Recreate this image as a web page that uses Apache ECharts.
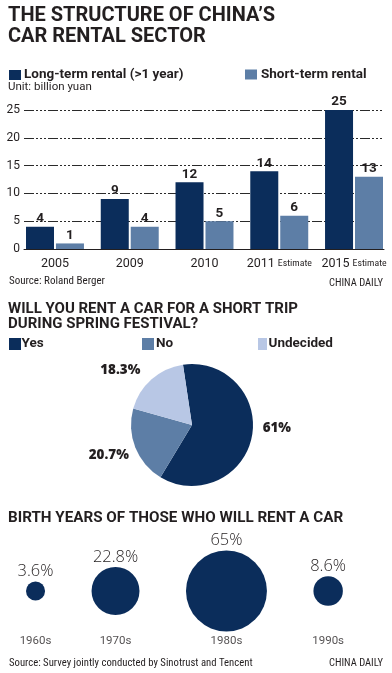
<!DOCTYPE html>
<html><head><meta charset="utf-8">
<script src="https://cdn.jsdelivr.net/npm/echarts@6/dist/echarts.min.js"></script>
<style>html,body{margin:0;padding:0;background:#fff}#c{width:392px;height:673px}</style>
</head><body><div id="c"></div>
<script>
// ---- data ----
const years = ['2005', '2009', '2010', '2011 Estimate', '2015 Estimate'];
const longTerm = [4, 9, 12, 14, 25];
const shortTerm = [1, 4, 5, 6, 13];
const yMin = 0, yMax = 25, yStep = 5;
const pieNames = ['Yes', 'No', 'Undecided'];
const pieValues = [61, 20.7, 18.3];
const decades = ['1960s', '1970s', '1980s', '1990s'];
const shares = [3.6, 22.8, 65, 8.6];

// ---- styles ----
const NAVY = '#0b2d5b', STEEL = '#5d7ea6', LIGHT = '#b8c7e5', INK = '#231f20';
const F = 'Roboto, "Noto Sans", sans-serif';
const COND = '"Roboto Condensed", Roboto, sans-serif';
const OPEN = '"Open Sans", Roboto, sans-serif';

// bubble layout: area proportional to share, equal gaps between circles
const K = 10.04, GAP = 46.5;
const diam = shares.map(v => K * Math.sqrt(v));
let cursor = 26;
const centers = diam.map(d => { const c = cursor + d / 2; cursor += d + GAP; return c; });

const txt = (text, pos, size, family, weight, lh) => Object.assign({text, padding: 0,
  textStyle: {fontFamily: family || F, fontWeight: weight || 'normal', fontSize: size, lineHeight: lh || size * 1.2, color: INK}}, pos);
const leg = (name, left, top, h, gap, iw) => ({data: [name], left, top, padding: 0, itemWidth: iw || 12, itemHeight: h,
  icon: 'rect', textStyle: {fontFamily: F, fontWeight: 'bold', fontSize: 13.5, color: INK, padding: [0, 0, 0, gap - 5]}});

const chart = echarts.init(document.getElementById('c'), null, {renderer: 'canvas'});
chart.setOption({
  animation: false,
  backgroundColor: '#fff',
  title: [
    txt('THE STRUCTURE OF CHINA\u2019S\nCAR RENTAL SECTOR', {left: 8, top: 5}, 20, F, 'bold', 21.5),
    txt('Unit: billion yuan', {left: 8, top: 80}, 11.5),
    txt('Source: Roland Berger', {left: 9, top: 275}, 11, COND),
    txt('CHINA DAILY', {right: 9, top: 277}, 10.5, COND),
    txt('WILL YOU RENT A CAR FOR A SHORT TRIP\nDURING SPRING FESTIVAL?', {left: 8, top: 301}, 15, F, 'bold', 15.5),
    txt('BIRTH YEARS OF THOSE WHO WILL RENT A CAR', {left: 8, top: 510}, 15.2, F, 'bold', 16),
    txt('Source: Survey jointly conducted by Sinotrust and Tencent', {left: 9, top: 657}, 10.7, COND),
    txt('CHINA DAILY', {right: 9, top: 657}, 10.5, COND)
  ],
  legend: [
    leg('Long-term rental (>1 year)', 9, 68, 10, 3),
    leg('Short-term rental', 245, 67.5, 10, 4),
    leg(pieNames[0], 9, 337, 12, 0.5),
    leg(pieNames[1], 142, 337, 12, 2),
    leg(pieNames[2], 258, 337, 12, 1.5, 9)
  ],
  grid: [
    {left: 24, right: 8, top: 110, height: 139},
    {left: 17.6, right: 0.6, top: 110, height: 139},
    {left: 0, right: 0, top: 541, height: 100}
  ],
  xAxis: [
    {gridIndex: 0, type: 'value', min: 0, max: 1, axisLabel: {show: false}, axisTick: {show: false},
     splitLine: {show: false}, axisLine: {show: true, lineStyle: {color: INK, width: 1}}},
    {gridIndex: 1, type: 'category', data: years, axisLine: {show: false}, axisTick: {show: false},
     axisLabel: {interval: 0, margin: 8, fontFamily: F, fontSize: 12.5, color: INK,
       formatter: v => { const p = v.split(' '); return p.length > 1 ? '{a|' + p[0] + '} {b|' + p[1] + '}' : '{a|' + v + '}'; },
       rich: {a: {fontFamily: F, fontSize: 12.5, color: INK}, b: {fontFamily: COND, fontSize: 9.8, color: INK}}}},
    {gridIndex: 2, type: 'value', min: 0, max: 392, show: false}
  ],
  yAxis: [
    {gridIndex: 0, type: 'value', min: yMin, max: yMax, interval: yStep,
     axisLine: {show: false}, axisTick: {show: false},
     axisLabel: {margin: 4, fontFamily: F, fontSize: 12, color: INK},
     splitLine: {show: true, lineStyle: {color: '#2a2a2a', width: 1, type: [10, 2, 2, 2, 2, 2, 2, 2]}}},
    {gridIndex: 1, type: 'value', min: yMin, max: yMax, show: false, splitLine: {show: false}},
    {gridIndex: 2, type: 'value', min: 0, max: 100, show: false}
  ],
  series: [
    {name: 'Long-term rental (>1 year)', type: 'bar', xAxisIndex: 1, yAxisIndex: 1, data: longTerm,
     barWidth: 28, barGap: '7%', itemStyle: {color: NAVY},
     label: {show: true, position: 'top', distance: 1, fontFamily: F, fontWeight: 'bold', fontSize: 13.5, color: INK}},
    {name: 'Short-term rental', type: 'bar', xAxisIndex: 1, yAxisIndex: 1, data: shortTerm,
     barWidth: 28, barGap: '7%', itemStyle: {color: STEEL},
     label: {show: true, position: 'top', distance: 1, fontFamily: F, fontWeight: 'bold', fontSize: 13.5, color: INK}},
    {type: 'pie', center: [192, 425], radius: 61, startAngle: 98.5, clockwise: true,
     avoidLabelOverlap: false,
     data: pieNames.map((n, i) => ({name: n, value: pieValues[i], itemStyle: {color: [NAVY, STEEL, LIGHT][i]}})),
     label: {show: true, position: 'outside', formatter: '{c}%', fontFamily: OPEN, fontWeight: 800, fontSize: 13.4, color: INK},
     labelLine: {show: false, length: 8, length2: 0},
     labelLayout: p => ({dx: [-2, 6, -1][p.dataIndex], dy: [-10, 5, -3][p.dataIndex]})},
    {type: 'scatter', xAxisIndex: 2, yAxisIndex: 2,
     data: centers.map((c, i) => [c, 50, shares[i]]),
     symbolSize: v => K * Math.sqrt(v[2]), itemStyle: {color: NAVY, opacity: 1},
     label: {show: true, position: 'top', distance: 2, formatter: p => p.value[2] + '%',
       fontFamily: OPEN, fontWeight: 300, fontSize: 16.4, color: INK}},
    {type: 'scatter', xAxisIndex: 2, yAxisIndex: 2,
     data: centers.map((c, i) => [c, 0, decades[i]]),
     symbolSize: 1, itemStyle: {color: 'rgba(0,0,0,0)'},
     label: {show: true, position: 'inside', formatter: p => p.value[2],
       fontFamily: F, fontSize: 11.5, color: INK}}
  ]
});
</script></body></html>
